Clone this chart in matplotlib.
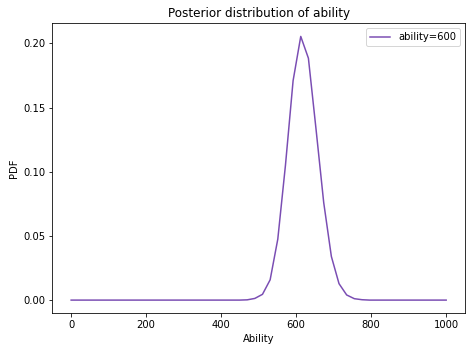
import numpy as np
import matplotlib
matplotlib.use("Agg")
import matplotlib.pyplot as plt

ability = np.linspace(0, 1000, 50)
pdf = [0.0] * 23 + [
    0.0002, 0.0013, 0.0045, 0.0158, 0.0475, 0.105, 0.171, 0.2055,
    0.1885, 0.133, 0.076, 0.034, 0.0128, 0.0040, 0.0011, 0.0003,
] + [0.0] * 11

fig = plt.figure(figsize=(472 / 72, 352 / 72), dpi=72)
ax = fig.add_axes([0.111, 0.110, 0.874, 0.824])
ax.plot(ability, pdf, color="#7a4db3", label="ability=600")
ax.set_title("Posterior distribution of ability")
ax.set_xlabel("Ability")
ax.set_ylabel("PDF")
ax.legend(loc="upper right")
fig.savefig("out.png", dpi=72)
